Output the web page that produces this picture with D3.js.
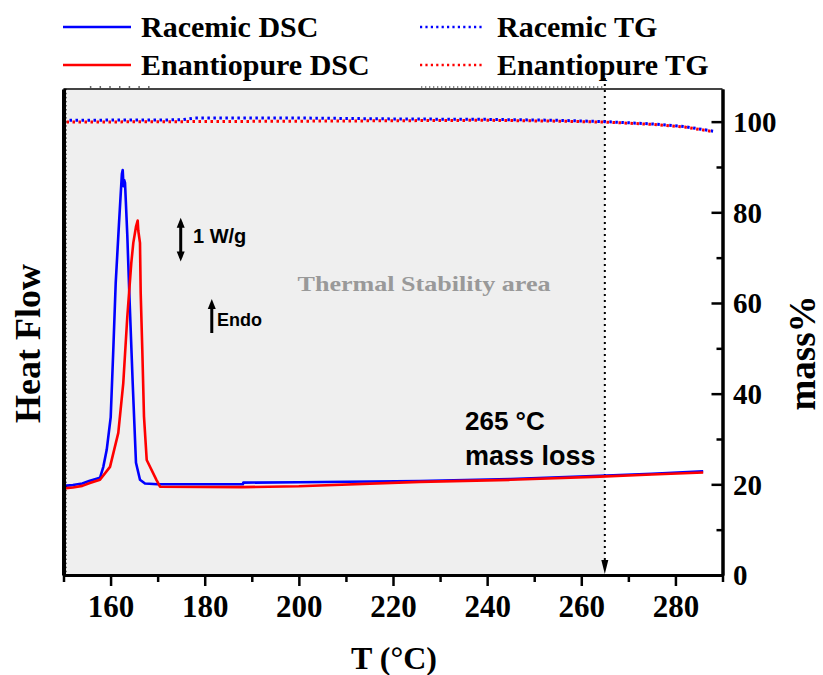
<!DOCTYPE html>
<html><head><meta charset="utf-8">
<script src="https://cdn.jsdelivr.net/npm/d3@7"></script>
<style>body{margin:0;background:#fff}</style>
</head><body>
<script>
// ---------- data ----------
const racemicDSC_T  = [150,152,154,155.6,157.75,158.46,159.18,160.03,160.58,161.09,161.8,162.4,162.58,162.75,162.9,163.07,163.55,163.98,164.7,165.4,166.25,167.31,170,188.1,188.2,200,225.7,245,264,275,285.9];
const racemicDSC_HF = [2.20,2.22,2.26,2.33,2.40,2.67,3.09,3.90,5.56,7.21,8.7,9.9,10.0,9.6,9.75,9.68,8.4,6.96,4.74,2.77,2.35,2.26,2.24,2.24,2.28,2.29,2.32,2.37,2.45,2.50,2.56];
const enantioDSC_T  = [150,152,154,155.6,157.75,159.88,161.64,162.7,163.55,164.4,164.83,165.4,165.76,165.89,166.25,166.4,166.74,167.1,167.68,169.74,170.5,188,200,225.7,245,264,275,285.9];
const enantioDSC_HF = [2.14,2.16,2.20,2.27,2.35,2.67,3.51,4.74,6.37,7.7,8.20,8.6,8.75,8.5,8.2,6.96,5.56,3.91,2.84,2.35,2.18,2.17,2.19,2.30,2.35,2.43,2.48,2.53];
const racemicTG_T   = [150,175,178,200,220,240,255,265,275,282,288];
const racemicTG_M   = [100.3,100.4,100.8,100.8,100.6,100.5,100.3,100.0,99.5,98.9,97.9];
const enantioTG_T   = [150,175,200,220,240,255,265,275,282,288];
const enantioTG_M   = [99.9,100.0,100.1,100.2,100.3,100.1,99.9,99.4,98.8,97.8];
const xMajorTicks   = [160,180,200,220,240,260,280];
const xMinorTicks   = [150,170,190,210,230,250,270,290];
const massMajorTicks = [0,20,40,60,80,100];
const massMinorTicks = [10,30,50,70,90];
const legendItems = [
  {label:"Racemic DSC", color:"#0000ff", dotted:false},
  {label:"Enantiopure DSC", color:"#ff0000", dotted:false},
  {label:"Racemic TG", color:"#0000ff", dotted:true},
  {label:"Enantiopure TG", color:"#ff0000", dotted:true}
];
const stabilityLimit = 265;

// ---------- setup ----------
const W = 823, H = 675;
const L = 63.5, R = 722.5, T = 89, B = 575;
const serif = "'Liberation Serif','Times New Roman',serif";
const sans = "'Liberation Sans',Arial,sans-serif";

const svg = d3.select("body").append("svg").attr("width", W).attr("height", H)
  .style("display","block").style("background","#fff");

const x = d3.scaleLinear().domain([150,290]).range([L,R]);
const yHF = d3.scaleLinear().domain([0,12]).range([B,T]);
const yM = d3.scaleLinear().domain([0,107.2]).range([B,T]);

// shaded stability area
svg.append("rect").attr("x", x(150)).attr("y", T)
  .attr("width", x(stabilityLimit)-x(150)).attr("height", B-T).attr("fill", "#efefef");

// top border
svg.append("line").attr("x1", L).attr("x2", R).attr("y1", T).attr("y2", T)
  .attr("stroke", "#444").attr("stroke-width", 2);

// faint dotted remnants above top border
svg.append("line").attr("x1", x(155.6)).attr("x2", x(168.5)).attr("y1", T-2).attr("y2", T-2)
  .attr("stroke","#333").attr("stroke-width",1.5).attr("stroke-dasharray","1.5,8.2");
svg.append("line").attr("x1", x(226)).attr("x2", x(265)).attr("y1", T-2).attr("y2", T-2)
  .attr("stroke","#333").attr("stroke-width",1.5).attr("stroke-dasharray","1,3");

// text annotations
svg.append("text").attr("x", x(226.6)).attr("y", 291)
  .attr("text-anchor","middle").attr("font-family", serif).attr("font-weight","bold")
  .attr("font-size", 22).attr("fill", "#999").attr("textLength", 253).attr("lengthAdjust","spacingAndGlyphs")
  .text("Thermal Stability area");

svg.append("text").attr("x", 465).attr("y", 430).attr("font-family", sans).attr("font-weight","bold")
  .attr("font-size", 26).attr("fill","#000").text("265 °C");
svg.append("text").attr("x", 465).attr("y", 465).attr("font-family", sans).attr("font-weight","bold")
  .attr("font-size", 27).attr("fill","#000").text("mass loss");

// 1 W/g scale bar
const sbx = x(174.9);
svg.append("line").attr("x1", sbx).attr("x2", sbx).attr("y1", yHF(8.72)).attr("y2", yHF(7.84))
  .attr("stroke","#000").attr("stroke-width",3);
svg.append("path").attr("d", `M${sbx},${yHF(8.82)} l-4,10 h8 z M${sbx},${yHF(7.74)} l-4,-10 h8 z`).attr("fill","#000");
svg.append("text").attr("x", 193).attr("y", 243).attr("font-family", sans).attr("font-weight","bold")
  .attr("font-size", 20).attr("fill","#000").text("1 W/g");

// Endo arrow
const ex = x(181.5);
svg.append("line").attr("x1", ex).attr("x2", ex).attr("y1", 333).attr("y2", 306)
  .attr("stroke","#000").attr("stroke-width",3);
svg.append("path").attr("d", `M${ex},299 l-4,10 h8 z`).attr("fill","#000");
svg.append("text").attr("x", 217).attr("y", 326).attr("font-family", sans).attr("font-weight","bold")
  .attr("font-size", 18).attr("fill","#000").text("Endo");

// 265 dotted arrow
const lx = x(stabilityLimit);
svg.append("line").attr("x1", lx).attr("x2", lx).attr("y1", 78).attr("y2", 560)
  .attr("stroke","#000").attr("stroke-width",2).attr("stroke-dasharray","2,4");
svg.append("path").attr("d", `M${lx},${B-1} l-3.5,-14 h7 z`).attr("fill","#000");

// ---------- series ----------
const lineHF = d3.line().x(d=>x(d[0])).y(d=>yHF(d[1]));
const lineM = d3.line().x(d=>x(d[0])).y(d=>yM(d[1]));

svg.append("path").datum(d3.zip(racemicTG_T, racemicTG_M)).attr("d", lineM)
  .attr("fill","none").attr("stroke","#0000ff").attr("stroke-width",3).attr("stroke-dasharray","2.5,3.5");
svg.append("path").datum(d3.zip(enantioTG_T, enantioTG_M)).attr("d", lineM)
  .attr("fill","none").attr("stroke","#ff0000").attr("stroke-width",3).attr("stroke-dasharray","2.5,3.5")
  .attr("stroke-dashoffset", 3);

svg.append("path").datum(d3.zip(racemicDSC_T, racemicDSC_HF)).attr("d", lineHF)
  .attr("fill","none").attr("stroke","#0000ff").attr("stroke-width",2.6).attr("stroke-linejoin","round");
svg.append("path").datum(d3.zip(enantioDSC_T, enantioDSC_HF)).attr("d", lineHF)
  .attr("fill","none").attr("stroke","#ff0000").attr("stroke-width",2.6).attr("stroke-linejoin","round");

// ---------- axes ----------
const styleAxis = (g, w) => {
  g.select(".domain").attr("stroke","#000").attr("stroke-width", w);
  g.selectAll(".tick line").attr("stroke","#000").attr("stroke-width", 2.5);
};

// bottom
const gxMinor = svg.append("g").attr("transform", `translate(0,${B})`)
  .call(d3.axisBottom(x).tickValues(xMinorTicks).tickSize(7).tickSizeOuter(0).tickFormat(""));
styleAxis(gxMinor, 3);
const gx = svg.append("g").attr("transform", `translate(0,${B})`)
  .call(d3.axisBottom(x).tickValues(xMajorTicks).tickSize(11).tickSizeOuter(0).tickFormat(d3.format("d")));
styleAxis(gx, 3);
gx.selectAll(".tick text").attr("y", 42).attr("dy", 0).attr("font-family", serif)
  .attr("font-weight","bold").attr("font-size", 31).attr("fill","#000");

// left (heat flow, no labels, dense inward ticks)
const leftTicks = d3.range(0, 121).map(i => i/10);
const gy = svg.append("g").attr("transform", `translate(${L},0)`)
  .call(d3.axisLeft(yHF).tickValues(leftTicks).tickSize(-3).tickSizeOuter(0).tickFormat(""));
styleAxis(gy, 4);
gy.selectAll(".tick line").attr("stroke-width", 1.5);

// right (mass%)
const gmMinor = svg.append("g").attr("transform", `translate(${R},0)`)
  .call(d3.axisRight(yM).tickValues(massMinorTicks).tickSize(-6).tickSizeOuter(0).tickFormat(""));
styleAxis(gmMinor, 3);
const gm = svg.append("g").attr("transform", `translate(${R},0)`)
  .call(d3.axisRight(yM).tickValues(massMajorTicks).tickSize(-11).tickPadding(10.5).tickSizeOuter(0).tickFormat(d3.format("d")));
styleAxis(gm, 3);
gm.selectAll(".tick text").attr("font-family", serif).attr("font-weight","bold")
  .attr("font-size", 29).attr("fill","#000").attr("dy","0.34em");

// axis titles
svg.append("text").attr("transform","translate(40,343.5) rotate(-90)").attr("text-anchor","middle")
  .attr("font-family", serif).attr("font-weight","bold").attr("font-size", 36).attr("fill","#000")
  .text("Heat Flow");
svg.append("text").attr("transform","translate(815,353) rotate(-90)").attr("text-anchor","middle")
  .attr("font-family", serif).attr("font-weight","bold").attr("font-size", 37).attr("fill","#000")
  .text("mass%");
svg.append("text").attr("x", 394).attr("y", 669).attr("text-anchor","middle")
  .attr("font-family", serif).attr("font-weight","bold").attr("font-size", 32).attr("fill","#000")
  .text("T (°C)");

// ---------- legend ----------
const legPos = [
  {lx1:63, lx2:131, tx:141, y:27},
  {lx1:63, lx2:131, tx:141, y:65},
  {lx1:420, lx2:484, tx:497, y:27},
  {lx1:420, lx2:484, tx:497, y:65}
];
legendItems.forEach((d,i) => {
  const p = legPos[i];
  const ln = svg.append("line").attr("x1", p.lx1).attr("x2", p.lx2).attr("y1", p.y).attr("y2", p.y)
    .attr("stroke", d.color).attr("stroke-width", 2.6);
  if (d.dotted) ln.attr("stroke-dasharray","2.2,3.2");
  svg.append("text").attr("x", p.tx).attr("y", p.y + 10).attr("font-family", serif)
    .attr("font-weight","bold").attr("font-size", 30).attr("fill","#000").text(d.label);
});
</script>
</body></html>
